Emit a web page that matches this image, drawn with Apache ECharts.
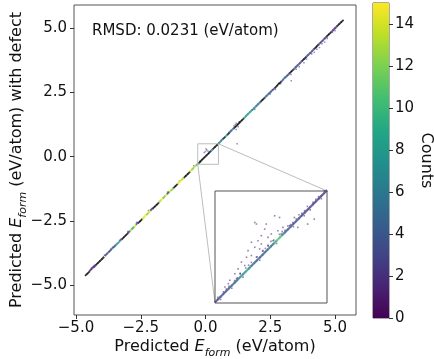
<!DOCTYPE html>
<html><head><meta charset="utf-8">
<script src="https://cdn.jsdelivr.net/npm/echarts/dist/echarts.min.js"></script>
<style>html,body{margin:0;padding:0;background:#fff}#c{width:434px;height:359px}</style>
</head><body><div id="c"></div>
<script>
// ---- data ----
const xTicks = [-5, -2.5, 0, 2.5, 5];
const yTicks = [-5, -2.5, 0, 2.5, 5];
const cbTicks = [0, 2, 4, 6, 8, 10, 12, 14];
const countMax = 15;
const zoomRange = [-0.3, 0.5];
const rmsdText = 'RMSD: 0.0231 (eV/atom)';

// colored 2D-histogram cells along the diagonal (main panel)
const mainX = [-4.44,-4.36,-4.28,-3.84,-3.76,-3.68,-3.60,-3.52,-3.44,-3.36,-3.28,-2.96,-2.88,-2.80,-2.72,-2.64,-2.40,-2.32,-2.24,-2.16,-2.08,-1.76,-1.68,-1.60,-1.52,-1.44,-1.36,-1.28,-1.04,-0.96,-0.88,-0.56,-0.48,-0.40,-0.32,0.24,0.56,0.64,0.80,0.96,1.04,1.52,1.60,1.68,1.76,1.84,1.92,2.00,2.08,2.32,2.40,2.48,2.56,2.64,2.96,3.04,3.12,3.20,3.44,3.52,3.60,3.68,3.92,4.00,4.08,4.16,4.40,4.48,4.56,4.64,4.88,4.96,5.04];
const mainY = [-4.42,-4.33,-4.27,-3.82,-3.74,-3.66,-3.57,-3.50,-3.42,-3.35,-3.25,-2.94,-2.86,-2.78,-2.70,-2.60,-2.39,-2.30,-2.23,-2.14,-2.05,-1.74,-1.66,-1.58,-1.50,-1.41,-1.34,-1.27,-1.02,-0.94,-0.86,-0.54,-0.46,-0.38,-0.30,0.25,0.57,0.66,0.81,0.98,1.06,1.53,1.62,1.70,1.78,1.85,1.93,2.01,2.09,2.33,2.41,2.49,2.57,2.64,2.96,3.05,3.12,3.20,3.44,3.52,3.60,3.68,3.92,4.00,4.07,4.16,4.40,4.48,4.56,4.64,4.88,4.96,5.04];
const mainC = [1,2,1,3,4,2,5,3,7,8,4,2,13,9,14,3,14,15,12,14,2,13,15,11,14,3,14,12,14,15,13,14,12,14,10,6,7,5,8,3,6,8,7,9,8,6,7,5,6,4,5,4,4,3,4,5,4,3,4,3,4,3,3,4,3,3,3,2,3,2,2,2,2];

// black dashes along the diagonal (main panel)
const blackX = [-4.60,-4.52,-4.20,-4.12,-4.04,-3.96,-3.20,-3.12,-3.04,-2.56,-2.48,-2.00,-1.92,-1.84,-1.20,-1.12,-0.80,-0.72,-0.64,-0.24,-0.16,-0.08,0.00,0.08,0.16,0.32,0.40,0.48,0.72,0.88,1.12,1.20,1.28,1.36,1.44,2.16,2.24,2.72,2.80,2.88,3.28,3.36,3.76,3.84,4.24,4.32,4.72,4.80,5.12,5.20,5.28];
const blackY = [-4.60,-4.52,-4.19,-4.11,-4.03,-3.95,-3.19,-3.11,-3.03,-2.55,-2.47,-1.99,-1.91,-1.83,-1.19,-1.11,-0.79,-0.71,-0.63,-0.23,-0.15,-0.07,0.01,0.09,0.17,0.33,0.41,0.49,0.73,0.89,1.13,1.21,1.29,1.37,1.45,2.17,2.25,2.72,2.81,2.88,3.28,3.36,3.76,3.84,4.24,4.32,4.72,4.80,5.12,5.20,5.28];

// isolated single-count cells (main panel)
const sprX = [3.30,3.62,3.90,4.10,4.30,4.50,4.70,4.90,5.00,4.60,4.20,3.80,2.90,2.50,1.90,3.31,1.22,1.10,1.15,1.20,1.26,1.30,1.18,0.00,0.05,-0.05,0.10,0.02,-4.40,-4.30,-3.90,-2.66,-2.20,-1.46,-1.00,-3.00,4.40,3.50,2.70,-0.45];
const sprY = [3.20,3.50,3.80,4.00,4.18,4.40,4.60,4.84,4.90,4.46,4.06,3.66,2.84,2.44,1.84,2.96,0.50,1.20,1.26,1.30,1.16,1.36,1.06,0.20,0.26,0.16,0.21,0.30,-4.34,-4.24,-3.84,-2.56,-2.10,-1.38,-0.94,-2.92,4.25,3.40,2.62,-0.36];

// inset: dense diagonal cells
const insX = [-0.29,-0.27,-0.25,-0.23,-0.21,-0.19,-0.17,-0.15,-0.13,-0.11,-0.09,-0.07,-0.05,-0.03,-0.01,0.01,0.03,0.05,0.07,0.09,0.11,0.13,0.15,0.17,0.19,0.21,0.23,0.25,0.27,0.29,0.31,0.33,0.35,0.37,0.39,0.41,0.43,0.45,0.47,0.49];
const insY = [-0.285,-0.265,-0.245,-0.225,-0.205,-0.185,-0.165,-0.145,-0.125,-0.105,-0.085,-0.065,-0.045,-0.025,-0.005,0.015,0.035,0.055,0.075,0.095,0.115,0.135,0.155,0.175,0.195,0.215,0.235,0.255,0.275,0.295,0.315,0.335,0.355,0.375,0.395,0.415,0.435,0.455,0.475,0.495];
const insC = [3,3,4,3,4,4,5,4,6,8,7,9,6,5,4,5,4,5,4,6,5,9,11,10,6,4,4,4,3,4,3,3,3,2,3,2,3,2,2,3];

// inset: sparse cells around / above the diagonal
const insSX = [-0.28,-0.24,-0.20,-0.16,-0.12,-0.08,-0.04,0.00,0.04,0.08,0.12,0.16,0.20,0.24,0.28,0.32,0.36,0.40,0.44,0.48,-0.26,-0.18,-0.10,0.02,0.14,0.26,0.38,0.46,-0.016,-0.004,0.126,0.161,0.267,0.256,0.291,0.338,0.055,0.031,0.078,0.007,-0.040,-0.016,0.019,0.043,-0.064,-0.075,-0.040,-0.004,-0.111,-0.087,-0.135,-0.158,-0.146,-0.194,-0.229,-0.205,0.078,0.114,0.149,0.173,0.232,0.362,0.409,0.031,0.102,0.066,0.185,-0.22,-0.14,-0.06,0.06,0.18,0.30,0.42,-0.12,0.10,0.22,0.34];
const insSY = [-0.26,-0.22,-0.18,-0.14,-0.09,-0.05,-0.01,0.03,0.07,0.11,0.15,0.19,0.22,0.26,0.30,0.34,0.39,0.42,0.46,0.50,-0.275,-0.195,-0.115,0.005,0.125,0.245,0.365,0.445,0.275,0.264,0.323,0.311,0.311,0.275,0.240,0.323,0.228,0.181,0.169,0.145,0.134,0.098,0.086,0.074,0.074,0.027,0.039,0.027,-0.008,-0.032,-0.056,-0.091,-0.126,-0.138,-0.186,-0.162,0.110,0.145,0.216,0.193,0.252,0.264,0.299,0.122,0.193,0.264,0.240,-0.20,-0.12,-0.03,0.09,0.21,0.33,0.44,-0.09,0.14,0.25,0.36];

// ---- chart ----
const viridis = ['#440154','#482475','#414487','#355f8d','#2a788e','#21918c','#22a884','#44bf70','#7ad151','#bddf26','#fde725'];
const FONT = 'DejaVu Sans';
const zip3 = (xs, ys, cs) => xs.map((x, i) => [x, ys[i], cs ? cs[i] : 1]);
const fmt = v => (v < 0 ? '\u2212' : '') + Math.abs(v).toFixed(1);

const chart = echarts.init(document.getElementById('c'), null, {renderer: 'canvas'});
const axisCommon = {
  type: 'value',
  splitLine: {show: false},
  axisLine: {show: false, onZero: false},
  axisTick: {show: true, length: 4, lineStyle: {color: '#333'}},
  axisLabel: {fontFamily: FONT, fontSize: 15, color: '#111', margin: 7, formatter: fmt}
};
const nameRich = {
  a: {fontFamily: FONT, fontSize: 16, color: '#111', verticalAlign: 'bottom', padding: [0, 0, 4, 0]},
  i: {fontFamily: FONT, fontSize: 16, color: '#111', fontStyle: 'italic', verticalAlign: 'bottom', padding: [0, 0, 4, 0]},
  s: {fontFamily: FONT, fontSize: 11, color: '#111', fontStyle: 'italic', verticalAlign: 'bottom'}
};
const gridBase = {show: true, borderColor: '#555', borderWidth: 1, containLabel: false, outerBoundsMode: 'none'};
const option = {
  animation: false,
  backgroundColor: '#fff',
  title: {text: rmsdText, left: 87, top: 19, textStyle: {fontFamily: FONT, fontSize: 15, fontWeight: 'normal', color: '#111'}},
  grid: [
    Object.assign({}, gridBase, {left: 74, top: 5, width: 282, height: 310, backgroundColor: 'transparent'}),
    Object.assign({}, gridBase, {left: 215, top: 191, width: 112, height: 112, backgroundColor: '#fff', z: 5}),
    Object.assign({}, gridBase, {left: 373, top: 3, width: 16, height: 315})
  ],
  xAxis: [
    Object.assign({}, axisCommon, {gridIndex: 0, min: -5.077, max: 5.81,
      axisTick: Object.assign({}, axisCommon.axisTick, {customValues: xTicks}),
      axisLabel: Object.assign({}, axisCommon.axisLabel, {margin: 6, customValues: xTicks}),
      name: '{a|Predicted }{i|E}{s|form}{a| (eV/atom)}', nameLocation: 'middle', nameGap: 24,
      nameMoveOverlap: false, nameTextStyle: {rich: nameRich}}),
    {type: 'value', gridIndex: 1, min: zoomRange[0], max: zoomRange[1], show: false},
    {type: 'category', gridIndex: 2, data: ['c'], show: false}
  ],
  yAxis: [
    Object.assign({}, axisCommon, {gridIndex: 0, min: -6.17, max: 5.907,
      axisTick: Object.assign({}, axisCommon.axisTick, {customValues: yTicks}),
      axisLabel: Object.assign({}, axisCommon.axisLabel, {customValues: yTicks}),
      name: '{a|Predicted }{i|E}{s|form}{a| (eV/atom) with defect}', nameLocation: 'middle', nameGap: 45,
      nameMoveOverlap: false, nameTextStyle: {rich: nameRich}}),
    {type: 'value', gridIndex: 1, min: zoomRange[0], max: zoomRange[1], show: false},
    {type: 'value', gridIndex: 2, min: 0, max: countMax, position: 'right',
      splitLine: {show: false}, axisLine: {show: false},
      axisTick: {show: true, length: 4, lineStyle: {color: '#333'}, customValues: cbTicks},
      axisLabel: {fontFamily: FONT, fontSize: 15, color: '#111', margin: 6, customValues: cbTicks},
      name: 'Counts', nameLocation: 'middle', nameRotate: -90, nameGap: 27,
      nameTextStyle: {fontFamily: FONT, fontSize: 16, color: '#111'}}
  ],
  visualMap: {type: 'continuous', show: false, min: 0, max: countMax, dimension: 2,
    seriesIndex: [1, 2, 3, 4], inRange: {color: viridis}},
  series: [
    {type: 'scatter', xAxisIndex: 0, yAxisIndex: 0, symbol: 'rect', symbolSize: [3.6, 1.8], symbolRotate: 45,
      itemStyle: {color: '#000'}, data: zip3(blackX, blackY), z: 2},
    {type: 'scatter', xAxisIndex: 0, yAxisIndex: 0, symbol: 'rect', symbolSize: [3.6, 2], symbolRotate: 45,
      data: zip3(mainX, mainY, mainC), z: 3},
    {type: 'scatter', xAxisIndex: 0, yAxisIndex: 0, symbol: 'rect', symbolSize: 1.5,
      itemStyle: {opacity: 0.5}, data: zip3(sprX, sprY), z: 1},
    {type: 'scatter', xAxisIndex: 1, yAxisIndex: 1, symbol: 'rect', symbolSize: [4.5, 2.2], symbolRotate: 45,
      data: zip3(insX, insY, insC), z: 7},
    {type: 'scatter', xAxisIndex: 1, yAxisIndex: 1, symbol: 'rect', symbolSize: 1.6,
      itemStyle: {opacity: 0.55}, data: zip3(insSX, insSY), z: 6},
    {type: 'bar', xAxisIndex: 2, yAxisIndex: 2, barWidth: '100%', data: [countMax], silent: true,
      itemStyle: {color: {type: 'linear', x: 0, y: 1, x2: 0, y2: 0,
        colorStops: viridis.map((c, i) => ({offset: i / (viridis.length - 1), color: c}))}}}
  ]
};
chart.setOption(option);

// zoom indicator + connectors, positioned through the axes
const P = (g, x, y) => chart.convertToPixel({gridIndex: g}, [x, y]);
const bl = P(0, zoomRange[0], zoomRange[0]);
const tr = P(0, zoomRange[1], zoomRange[1]);
const ibl = P(1, zoomRange[0], zoomRange[0]);
const itr = P(1, zoomRange[1], zoomRange[1]);
const gray = {stroke: '#bdbdbd', lineWidth: 1, fill: null};
chart.setOption({graphic: [
  {type: 'rect', shape: {x: bl[0], y: tr[1], width: tr[0] - bl[0], height: bl[1] - tr[1]}, style: gray, z: 4},
  {type: 'line', shape: {x1: tr[0], y1: tr[1], x2: itr[0], y2: itr[1]}, style: gray, z: 4},
  {type: 'line', shape: {x1: bl[0], y1: bl[1], x2: ibl[0], y2: ibl[1]}, style: gray, z: 4}
]});
</script></body></html>
